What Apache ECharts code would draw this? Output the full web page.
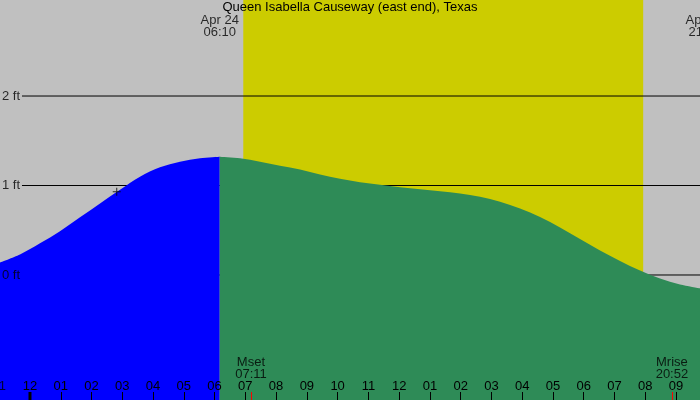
<!DOCTYPE html>
<html>
<head>
<meta charset="utf-8">
<script src="https://cdn.jsdelivr.net/npm/echarts@6/dist/echarts.min.js"></script>
<style>html,body{margin:0;padding:0;background:#c0c0c0;}#c{width:700px;height:400px;}</style>
</head>
<body>
<div id="c"></div>
<script>
// ---- data (hours since midnight Apr 24, heights in ft) ----
const titleText = 'Queen Isabella Causeway (east end), Texas';
const risingHours   = [-0.975, -0.325, 0.325, 0.975, 1.626, 2.276, 2.926, 3.576, 4.226, 4.876, 5.527, 6.167];
const risingHeights = [0.140, 0.229, 0.354, 0.489, 0.645, 0.799, 0.953, 1.098, 1.203, 1.266, 1.304, 1.322];
const fallingHours   = [6.167, 6.827, 7.477, 8.127, 8.778, 9.428, 10.078, 10.728, 11.378, 12.029, 12.679, 13.329, 13.979, 14.629, 15.280, 15.930, 16.580, 17.230, 17.880, 18.531, 19.181, 19.831, 20.481, 21.131, 21.781];
const fallingHeights = [1.322, 1.304, 1.266, 1.221, 1.179, 1.123, 1.076, 1.037, 1.008, 0.981, 0.959, 0.937, 0.912, 0.874, 0.819, 0.743, 0.648, 0.531, 0.402, 0.274, 0.156, 0.050, -0.039, -0.106, -0.149];
const tideEventHours = [6.167, 21.933];
const tideEventLabels = ['Apr 24\n06:10', 'Apr 24\n21:56'];
const daylight = [6.933, 19.933];           // sunrise, sunset
const moonHours = [7.183, 20.867];
const moonLabels = ['Mset\n07:11', 'Mrise\n20:52'];
const nowMarker = [2.82, 0.931];
const levelTicks = [0, 1, 2];
const hourTicks = [-1,0,1,2,3,4,5,6,7,8,9,10,11,12,13,14,15,16,17,18,19,20,21];
const edgeHourTicks = [-1];   // tick label partly outside the left edge
const midnightHours = [0];

const X_MIN = -0.975, X_MAX = 21.78, Y_MIN = -1.397, Y_MAX = 3.073;
const FONT = 'Liberation Sans, Arial, sans-serif';

function hourLabel(v){
  let h = ((Math.round(v) % 12) + 12) % 12;
  if (h === 0) h = 12;
  return (h < 10 ? '0' : '') + h;
}

const chart = echarts.init(document.getElementById('c'), null, {renderer:'canvas'});

const levelSeries = levelTicks.map(v => ({
  type:'line', z:2, silent:true, symbol:'none', animation:false,
  data:[[-0.26, v],[X_MAX, v]],
  lineStyle:{color:'#000', width:1}
}));

chart.setOption({
  animation:false,
  backgroundColor:'#c0c0c0',
  title:{text:titleText, left:'center', top:1, padding:0,
    textStyle:{fontSize:13, fontWeight:'normal', color:'#000', fontFamily:FONT}},
  grid:{left:0, right:0, top:0, bottom:0},
  xAxis:{type:'value', min:X_MIN, max:X_MAX, z:10,
    splitLine:{show:false}, axisLine:{show:false, onZero:false},
    axisTick:{show:true, inside:true, length:8, customValues:hourTicks, lineStyle:{color:'#000', width:1}},
    axisLabel:{show:true, inside:true, margin:7, customValues:hourTicks, formatter:hourLabel,
      color:'#000', fontSize:13, fontFamily:FONT}},
  yAxis:{type:'value', min:Y_MIN, max:Y_MAX, show:false, splitLine:{show:false}},
  series:[
    {type:'custom', z:1, silent:true, data:[daylight],
      renderItem:function(params, api){
        const p0 = api.coord([api.value(0), Y_MAX]);
        const p1 = api.coord([api.value(1), Y_MIN]);
        return {type:'rect', shape:{x:p0[0], y:p0[1], width:p1[0]-p0[0], height:p1[1]-p0[1]}, style:{fill:'#cccc00'}};
      }},
    ...levelSeries,
    {type:'line', z:3, symbol:'none', smooth:0.33,
      data:risingHours.map((h,i)=>[h, risingHeights[i]]),
      lineStyle:{width:0}, areaStyle:{color:'#0000ff', opacity:1, origin:'start'}},
    {type:'line', z:3, symbol:'none', smooth:0.33,
      data:fallingHours.map((h,i)=>[h, fallingHeights[i]]),
      lineStyle:{width:0}, areaStyle:{color:'#2e8b57', opacity:1, origin:'start'}},
    {type:'scatter', z:4, silent:true, data:[nowMarker],
      symbol:'path://M0,3.5h8v1h-8z M3.5,0h1v8h-1z', symbolSize:[8,8], itemStyle:{color:'#000'}},
    {type:'scatter', z:5, silent:true, symbolSize:0, clip:false,
      data:levelTicks.map(v=>[X_MIN, v]),
      label:{show:true, position:'right', distance:2, formatter:p=>p.value[1]+' ft', color:'#000', fontSize:13, fontFamily:FONT}},
    {type:'scatter', z:5, silent:true, symbolSize:0, clip:false,
      data:tideEventHours.map((h,i)=>({value:[h, Y_MAX], name:tideEventLabels[i]})),
      label:{show:true, position:'bottom', distance:14, lineHeight:12, align:'center', formatter:p=>p.name, color:'#000', fontSize:13, fontFamily:FONT}},
    {type:'scatter', z:5, silent:true, symbolSize:0, clip:false,
      data:moonHours.map((h,i)=>({value:[h, Y_MIN], name:moonLabels[i]})),
      label:{show:true, position:'top', distance:20, lineHeight:12, align:'center', formatter:p=>p.name, color:'#000', fontSize:13, fontFamily:FONT}},
    {type:'scatter', z:11, silent:true, symbolSize:0, clip:false,
      data:edgeHourTicks.map(h=>[h, Y_MIN]),
      label:{show:true, position:'top', distance:7, align:'center', formatter:p=>hourLabel(p.value[0]), color:'#000', fontSize:13, fontFamily:FONT}},
    {type:'custom', z:6, silent:true, data:midnightHours.map(h=>[h]),
      renderItem:function(params, api){
        const p = api.coord([api.value(0), Y_MIN]);
        return {type:'rect', shape:{x:p[0]-1.5, y:p[1]-8, width:3, height:8}, style:{fill:'#000'}};
      }},
    {type:'custom', z:6, silent:true, data:moonHours.map(h=>[h]),
      renderItem:function(params, api){
        const p = api.coord([api.value(0), Y_MIN]);
        return {type:'rect', shape:{x:Math.round(p[0]), y:p[1]-8, width:1, height:8}, style:{fill:'#ff0000'}};
      }}
  ]
});
</script>
</body>
</html>
